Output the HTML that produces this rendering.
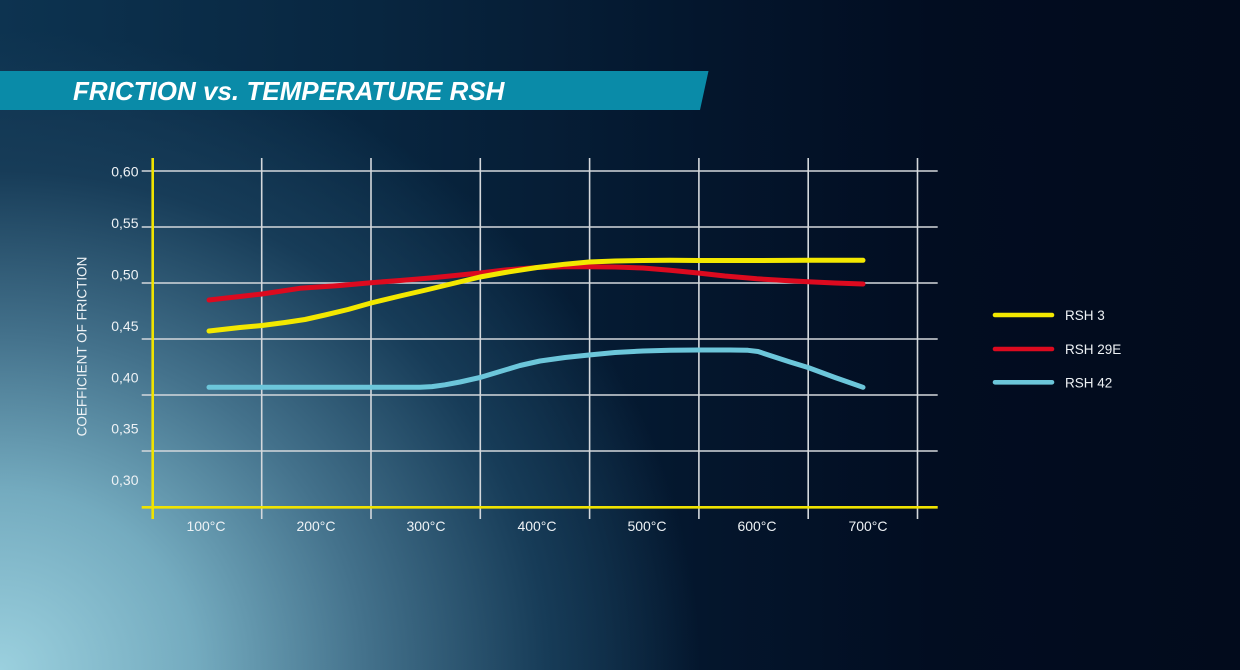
<!DOCTYPE html>
<html>
<head>
<meta charset="utf-8">
<style>
  html, body { margin:0; padding:0; }
  body {
    width:1240px; height:670px; overflow:hidden; position:relative;
    font-family:"Liberation Sans", Arial, sans-serif;
    background:
      radial-gradient(ellipse 700px 640px at 0% 100%, #9bd0de 0%, #74abbf 28%, #44728c 52%, #173c58 78%, rgba(6,28,50,0) 100%),
      linear-gradient(to right, #0d3350 0%, #082640 30%, #04172e 55%, #020d21 75%, #020b1c 100%);
  }
  svg { position:absolute; left:0; top:0; }
</style>
</head>
<body>
<svg width="1240" height="670" viewBox="0 0 1240 670" xmlns="http://www.w3.org/2000/svg">
  <!-- title banner -->
  <polygon points="0,71 708.5,71 700,110 0,110" fill="#0a8ba8"/>
  <text x="73" y="100" font-family="Liberation Sans, Arial, sans-serif" font-size="26" font-weight="bold" font-style="italic" fill="#ffffff">FRICTION vs. TEMPERATURE RSH</text>

  <!-- horizontal gridlines -->
  <g stroke="#d4d8dc" stroke-width="1.6">
    <line x1="141.7" y1="171" x2="937.7" y2="171"/>
    <line x1="141.7" y1="227" x2="937.7" y2="227"/>
    <line x1="141.7" y1="283" x2="937.7" y2="283"/>
    <line x1="141.7" y1="339" x2="937.7" y2="339"/>
    <line x1="141.7" y1="395" x2="937.7" y2="395"/>
    <line x1="141.7" y1="451" x2="937.7" y2="451"/>
  </g>
  <!-- vertical gridlines -->
  <g stroke="#d4d8dc" stroke-width="1.6">
    <line x1="261.7" y1="158" x2="261.7" y2="519"/>
    <line x1="371" y1="158" x2="371" y2="519"/>
    <line x1="480.3" y1="158" x2="480.3" y2="519"/>
    <line x1="589.6" y1="158" x2="589.6" y2="519"/>
    <line x1="698.9" y1="158" x2="698.9" y2="519"/>
    <line x1="808.2" y1="158" x2="808.2" y2="519"/>
    <line x1="917.5" y1="158" x2="917.5" y2="519"/>
  </g>
  <!-- yellow axes -->
  <line x1="152.7" y1="158" x2="152.7" y2="519" stroke="#f0e300" stroke-width="2.6"/>
  <line x1="141.7" y1="507.3" x2="937.7" y2="507.3" stroke="#f0e300" stroke-width="2.6"/>

  <!-- y tick labels -->
  <g font-family="Liberation Sans, Arial, sans-serif" font-size="14" fill="#eef2f5" text-anchor="end">
    <text x="138.5" y="176.5">0,60</text>
    <text x="138.5" y="228">0,55</text>
    <text x="138.5" y="279.5">0,50</text>
    <text x="138.5" y="331">0,45</text>
    <text x="138.5" y="382.5">0,40</text>
    <text x="138.5" y="433.5">0,35</text>
    <text x="138.5" y="485">0,30</text>
  </g>
  <!-- axis title -->
  <text x="0" y="0" transform="translate(86.5,346.5) rotate(-90)" font-family="Liberation Sans, Arial, sans-serif" font-size="13.5" fill="#eef2f5" text-anchor="middle">COEFFICIENT OF FRICTION</text>

  <!-- x tick labels -->
  <g font-family="Liberation Sans, Arial, sans-serif" font-size="14" fill="#eef2f5" text-anchor="middle">
    <text x="206" y="531">100°C</text>
    <text x="316" y="531">200°C</text>
    <text x="426" y="531">300°C</text>
    <text x="537" y="531">400°C</text>
    <text x="647" y="531">500°C</text>
    <text x="757" y="531">600°C</text>
    <text x="868" y="531">700°C</text>
  </g>

  <!-- series -->
  <g fill="none" stroke-width="5" stroke-linecap="round" stroke-linejoin="round">
    <polyline stroke="#6cc6da" points="209,387.3 420,387.3 432,386.6 445,384.8 460,382 480,377.5 500,371.5 520,365.5 540,361 565,357.5 589,355 615,352.5 643,351 670,350.2 698,350 730,350 748,350.3 758,351.5 770,355.5 790,362 808,367.5 835,377.5 863,387.3"/>
    <polyline stroke="#dc0a1f" points="209,300 240,296.5 262,294 300,288.3 340,285.5 371,282.7 400,280.5 430,278 455,275.5 480,273 505,270 537,267.5 565,266.8 589,266.7 615,267 643,268 670,270.2 698,273 725,276 757,278.8 785,280.5 808,281.7 835,283 863,284"/>
    <polyline stroke="#f3e800" points="209,331 240,327.5 262,325.5 285,322.5 305,319.5 325,315 348,309.5 371,303 400,296 426,290 455,283 480,277 505,272.5 537,267.5 565,264.2 589,262 615,261 643,260.5 670,260.3 698,260.5 757,260.5 810,260.3 863,260.3"/>
  </g>

  <!-- legend -->
  <g stroke-width="4.6" stroke-linecap="round">
    <line x1="995" y1="315" x2="1052" y2="315" stroke="#f3e800"/>
    <line x1="995" y1="349" x2="1052" y2="349" stroke="#dc0a1f"/>
    <line x1="995" y1="382.3" x2="1052" y2="382.3" stroke="#6cc6da"/>
  </g>
  <g font-family="Liberation Sans, Arial, sans-serif" font-size="13.5" fill="#eef2f5">
    <text x="1065" y="320">RSH 3</text>
    <text x="1065" y="354">RSH 29E</text>
    <text x="1065" y="387.3">RSH 42</text>
  </g>
</svg>
</body>
</html>
